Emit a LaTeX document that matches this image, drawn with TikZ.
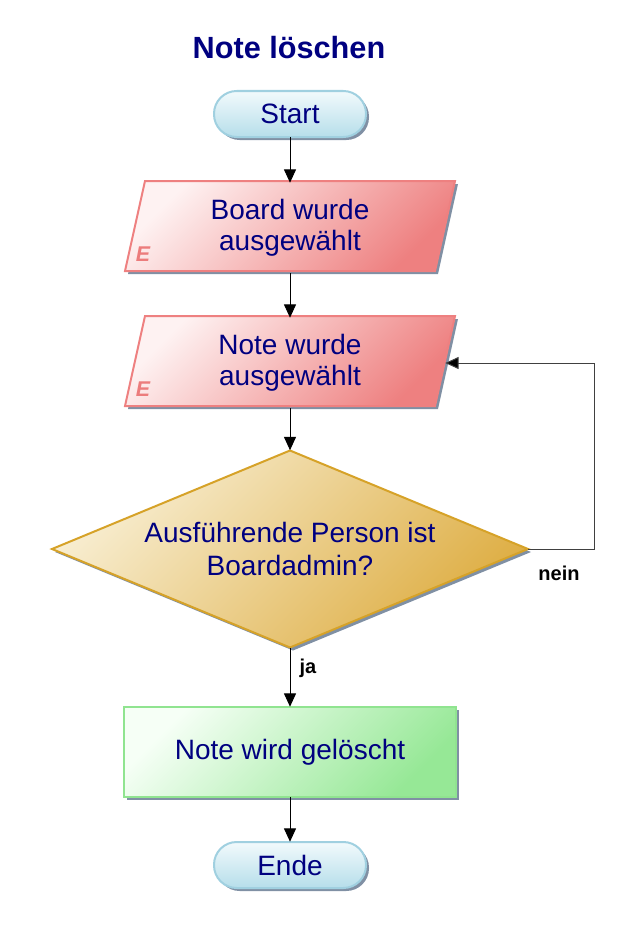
\documentclass[tikz,border=0pt]{standalone}
\usepackage{fontspec}
\setmainfont{Liberation Sans}
\usetikzlibrary{arrows.meta}
\definecolor{txtc}{RGB}{0,0,128}
\definecolor{shc}{RGB}{128,144,164}
\definecolor{pillA}{RGB}{242,250,252}
\definecolor{pillB}{RGB}{182,222,234}
\definecolor{pillD}{RGB}{160,208,224}
\definecolor{evA}{RGB}{254,242,242}
\definecolor{evB}{RGB}{238,128,128}
\definecolor{evD}{RGB}{238,128,128}
\definecolor{ecol}{RGB}{236,124,124}
\definecolor{decA}{RGB}{248,238,210}
\definecolor{decB}{RGB}{222,174,68}
\definecolor{decD}{RGB}{214,162,40}
\definecolor{actA}{RGB}{246,255,246}
\definecolor{actB}{RGB}{150,232,150}
\definecolor{actD}{RGB}{144,228,144}
\definecolor{loopc}{RGB}{64,64,64}
\newcommand\mypill[3]{\path[#3, rounded corners=17pt] (#1-76,#2-23) rectangle ++(152,46);}
\newcommand\myev[3]{\path[#3] (#1-145,#2-45) -- ++(310,0) -- ++(-20,90) -- ++(-310,0) -- cycle;}
\newcommand\myact[3]{\path[#3] (#1-166,#2-45) rectangle ++(332,90);}
\newcommand\mydec[3]{\path[#3] (#1,#2-98.5) -- ++(238,98.5) -- ++(-238,98.5) -- ++(-238,-98.5) -- cycle;}
\begin{document}
\begin{tikzpicture}[x=0.75pt,y=-0.75pt,
 box/.style={inner sep=0pt, align=center, text=txtc, font=\fontsize{21}{24.5}\selectfont},
 pillnode/.style={box, minimum width=114pt, minimum height=34.5pt},
 evnode/.style={box, minimum width=232.5pt, minimum height=67.5pt, font=\fontsize{21}{23.5}\selectfont},
 actnode/.style={box, minimum width=249pt, minimum height=67.5pt},
 decnode/.style={box, minimum width=357pt, minimum height=147.75pt},
 flow/.style={draw=black, line width=0.75pt, -{Triangle[width=9pt,length=10pt]}},
 loopflow/.style={draw=loopc, line width=0.75pt, -{Triangle[width=9pt,length=10pt,fill=black]}},
 lab/.style={font=\bfseries\fontsize{15}{18}\selectfont, text=black, inner sep=0pt},
 elab/.style={font=\bfseries\itshape\fontsize{16}{18}\selectfont, text=ecol, inner sep=0pt},
 shadowfill/.style={fill=shc},
 pillfill/.style={draw=pillD, line width=1.5pt, top color=pillA, bottom color=pillB},
 evfill/.style={draw=evD, line width=1.5pt, top color=evA, bottom color=evB, shading angle=45},
 decfill/.style={draw=decD, line width=1.5pt, top color=decA, bottom color=decB, shading angle=45},
 actfill/.style={draw=actD, line width=1.5pt, top color=actA, bottom color=actB, shading angle=45},
]
\useasboundingbox (0,0) rectangle (637,931);
% shapes
\mypill{293}{117}{shadowfill}
\mypill{290}{114}{pillfill}
\myev{293}{229}{shadowfill}
\myev{290}{226}{evfill}
\myev{293}{364}{shadowfill}
\myev{290}{361}{evfill}
\mydec{293}{552}{shadowfill}
\mydec{290}{549}{decfill}
\myact{293}{755}{shadowfill}
\myact{290}{752}{actfill}
\mypill{293}{868}{shadowfill}
\mypill{290}{865}{pillfill}
% nodes
\node[font=\bfseries\fontsize{23}{28}\selectfont, text=txtc] (title) at (289,48) {Note löschen};
\node[pillnode] (start) at (290,114) {Start};
\node[evnode] (b1) at (290,228) {Board wurde\\ausgewählt};
\node[elab] (e1) at (143,254) {E};
\node[evnode] (b2) at (290,363) {Note wurde\\ausgewählt};
\node[elab] (e2) at (143,389) {E};
\node[decnode] (dec) at (290,549) {Ausführende Person ist\\Boardadmin?};
\node[actnode] (act) at (290,752) {Note wird gelöscht};
\node[pillnode] (ende) at (290,865) {Ende};
\node[lab] (ja) at (308,668) {ja};
\node[lab] (nein) at (559,573) {nein};
\coordinate (lp) at (594,549);
% connectors
\draw[flow] (start.south) -- (b1.north);
\draw[flow] (b1.south) -- (b2.north);
\draw[flow] (b2.south) -- (dec.north);
\draw[flow] (dec.south) -- (act.north);
\draw[flow] (act.south) -- (ende.north);
\draw[loopflow] (dec.east) -- (lp) |- (b2.east);
\end{tikzpicture}
\end{document}
